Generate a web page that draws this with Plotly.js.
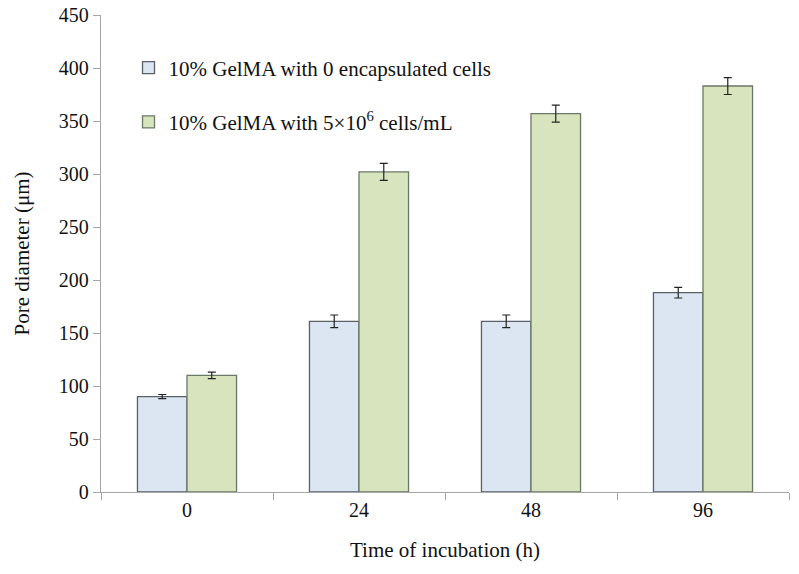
<!DOCTYPE html>
<html>
<head>
<meta charset="utf-8">
<script src="https://cdn.plot.ly/plotly-3.0.1.min.js"></script>
<style>html,body{margin:0;padding:0;background:#fff;}#chart{width:799px;height:574px;}</style>
</head>
<body>
<div id="chart"></div>
<script>
const categories = ["0", "24", "48", "96"];
const seriesNames = ["10% GelMA with 0 encapsulated cells", "10% GelMA with 5×10<sup>6</sup> cells/mL"];
const noCells = [90, 161, 161, 188];
const noCellsErr = [2, 6, 6, 5];
const withCells = [110, 302, 357, 383];
const withCellsErr = [3, 8, 8, 8];
const yTicks = [0, 50, 100, 150, 200, 250, 300, 350, 400, 450];

function f(size) { return {family: "'Liberation Serif', 'Times New Roman', serif", size: size, color: "#111"}; }

const traces = [
  {type: "bar", name: seriesNames[0], x: categories, y: noCells, legendgroup: "a",
   marker: {color: "rgb(219,230,242)", line: {color: "#5a6068", width: 1.3}},
   error_y: {type: "data", array: noCellsErr, visible: true, color: "#222", thickness: 1.2, width: 4}},
  {type: "bar", name: seriesNames[1], x: categories, y: withCells, legendgroup: "b",
   marker: {color: "rgb(215,228,190)", line: {color: "#6a7866", width: 1.3}},
   error_y: {type: "data", array: withCellsErr, visible: true, color: "#222", thickness: 1.2, width: 4}}
];

const layout = {
  width: 799, height: 574,
  margin: {l: 101, r: 10, t: 15, b: 82},
  paper_bgcolor: "#fff", plot_bgcolor: "#fff",
  font: f(20),
  barmode: "group", bargap: 0.424, bargroupgap: 0,
  showlegend: true,
  legend: {x: 0.04, y: 0.932, xanchor: "left", yanchor: "top", font: f(21),
           bgcolor: "rgba(0,0,0,0)", tracegroupgap: 24, itemwidth: 30},
  xaxis: {type: "category", showline: true, linecolor: "#a6a6a6", linewidth: 1.2,
          ticks: "outside", tickson: "boundaries", ticklen: 7, tickcolor: "#a6a6a6",
          tickfont: f(20), showgrid: false, zeroline: false,
          title: {text: "Time of incubation (h)", font: f(21), standoff: 22}},
  yaxis: {range: [0, 450], tickvals: yTicks, showline: true, linecolor: "#a6a6a6", linewidth: 1.2,
          ticks: "outside", ticklen: 7, tickcolor: "#a6a6a6", tickfont: f(20),
          showgrid: false, zeroline: false,
          title: {text: "Pore diameter (μm)", font: f(21), standoff: 23}}
};

Plotly.newPlot("chart", traces, layout, {displayModeBar: false, staticPlot: true});
</script>
</body>
</html>
